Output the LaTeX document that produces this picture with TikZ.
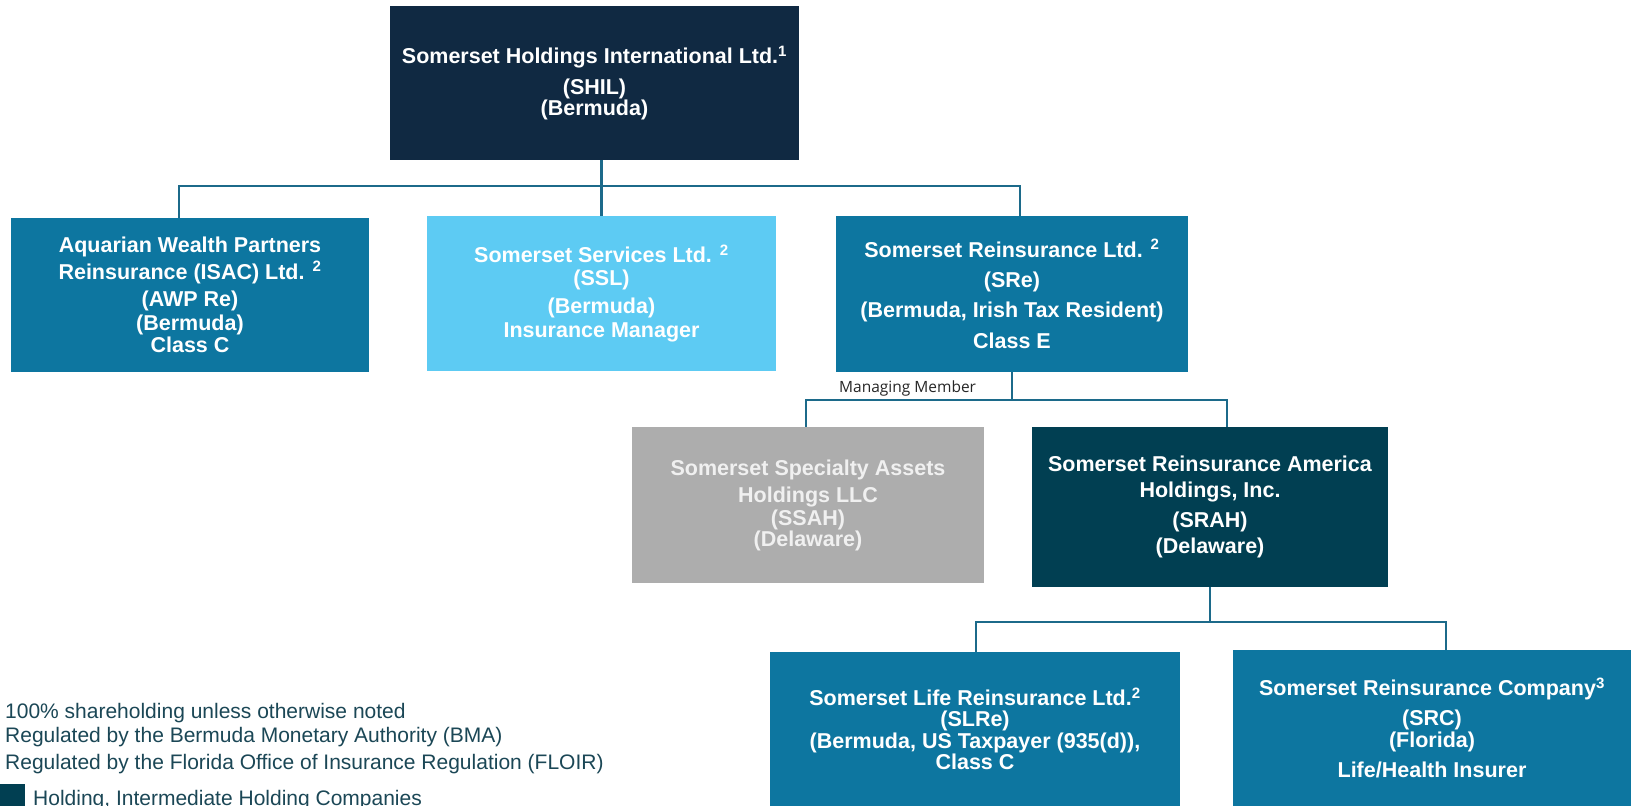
\documentclass[tikz,border=0pt]{standalone}
\usepackage{fontspec}
\setmainfont{Liberation Sans}
\newfontfamily\mmfont{Open Sans}
\definecolor{navy}{HTML}{102942}
\definecolor{midblue}{HTML}{0D76A0}
\definecolor{lightblue}{HTML}{5DCBF3}
\definecolor{greybox}{HTML}{ADADAD}
\definecolor{darkteal}{HTML}{013F52}
\definecolor{lineblue}{HTML}{1C6A8A}
\definecolor{legendtext}{HTML}{1B4756}
\newcommand\boxfont{\bfseries\fontsize{21.5}{22}\selectfont}
\tikzset{
  orgbox/.style={rectangle, inner sep=0pt, align=center, text=white, font=\boxfont},
  conn/.style={draw=lineblue, line width=2.4pt, line join=miter},
  legendtxt/.style={anchor=base west, inner sep=0pt, text=legendtext, font=\fontsize{21}{24}\selectfont},
}
\begin{document}
\begin{tikzpicture}[x=1pt, y=-1pt]
\useasboundingbox (0,0) rectangle (1631,806);
\fill[white] (0,0) rectangle (1631,806);

% boxes
\node[orgbox, fill=navy, minimum width=409pt, minimum height=154pt] (shil) at (594.5,83)
  {Somerset Holdings International Ltd.\textsuperscript{1}\\[9pt] (SHIL)\\[-1pt] (Bermuda)};
\node[orgbox, fill=midblue, minimum width=358pt, minimum height=154pt] (awp) at (190,295)
  {Aquarian Wealth Partners\\[3pt] Reinsurance (ISAC) Ltd. \textsuperscript{2}\\[5pt] (AWP Re)\\[2pt] (Bermuda)\\ Class C};
\node[orgbox, fill=lightblue, minimum width=349pt, minimum height=155pt] (ssl) at (601.5,293.5)
  {Somerset Services Ltd. \textsuperscript{2}\\[1pt] (SSL)\\[6pt] (Bermuda)\\[2pt] Insurance Manager};
\node[orgbox, fill=midblue, minimum width=352pt, minimum height=156pt] (sre) at (1012,294)
  {Somerset Reinsurance Ltd. \textsuperscript{2}\\[8pt] (SRe)\\[8pt] (Bermuda, Irish Tax Resident)\\[9pt] Class E};
\node[orgbox, fill=greybox, text=white!94!black, minimum width=352pt, minimum height=156pt] (ssah) at (808,505)
  {Somerset Specialty Assets\\[5pt] Holdings LLC\\[1pt] (SSAH)\\[-1pt] (Delaware)};
\node[orgbox, fill=darkteal, minimum width=356pt, minimum height=160pt] (srah) at (1210,507)
  {Somerset Reinsurance America\\[4pt] Holdings, Inc.\\[8pt] (SRAH)\\[4pt] (Delaware)};
\node[orgbox, fill=midblue, minimum width=410pt, minimum height=154pt] (slre) at (975,729)
  {Somerset Life Reinsurance Ltd.\textsuperscript{2}\\[-1pt] (SLRe)\\ (Bermuda, US Taxpayer (935(d)),\\[-1pt] Class C};
\node[orgbox, fill=midblue, minimum width=398pt, minimum height=156pt] (src) at (1432,728)
  {Somerset Reinsurance Company\textsuperscript{3}\\[8pt] (SRC)\\ (Florida)\\[8pt] Life/Health Insurer};

% first level connectors
\coordinate (busAL) at (179,186);
\coordinate (busAR) at (1020,186);
\draw[conn] (ssl.north) -- (ssl.north |- shil.south);
\draw[conn] (busAL |- awp.north) -- (busAL) -- (busAR) -- (busAR |- sre.north);

% second level connectors
\coordinate (busBL) at (806,400);
\coordinate (busBR) at (1227,400);
\draw[conn] (sre.south) -- (sre.south |- busBL);
\draw[conn] (busBL |- ssah.north) -- (busBL) -- (busBR) -- (busBR |- srah.north);
\node[anchor=west, inner sep=0pt, font=\mmfont\fontsize{15.5}{18}\selectfont, text=black!85] (mm) at (839,388) {Managing Member};

% third level connectors
\coordinate (busCL) at (976,622);
\coordinate (busCR) at (1446,622);
\draw[conn] (srah.south) -- (srah.south |- busCL);
\draw[conn] (busCL |- slre.north) -- (busCL) -- (busCR) -- (busCR |- src.north);

% legend
\node[legendtxt] (lg1) at (5,718) {100\% shareholding unless otherwise noted};
\node[legendtxt] (lg2) at (5,742) {Regulated by the Bermuda Monetary Authority (BMA)};
\node[legendtxt] (lg3) at (5,769) {Regulated by the Florida Office of Insurance Regulation (FLOIR)};
\node[rectangle, fill=darkteal, inner sep=0pt, minimum width=25pt, minimum height=26pt, anchor=north west] (sq) at (0,784) {};
\node[legendtxt] (lg4) at (33,805) {Holding, Intermediate Holding Companies};
\end{tikzpicture}
\end{document}
